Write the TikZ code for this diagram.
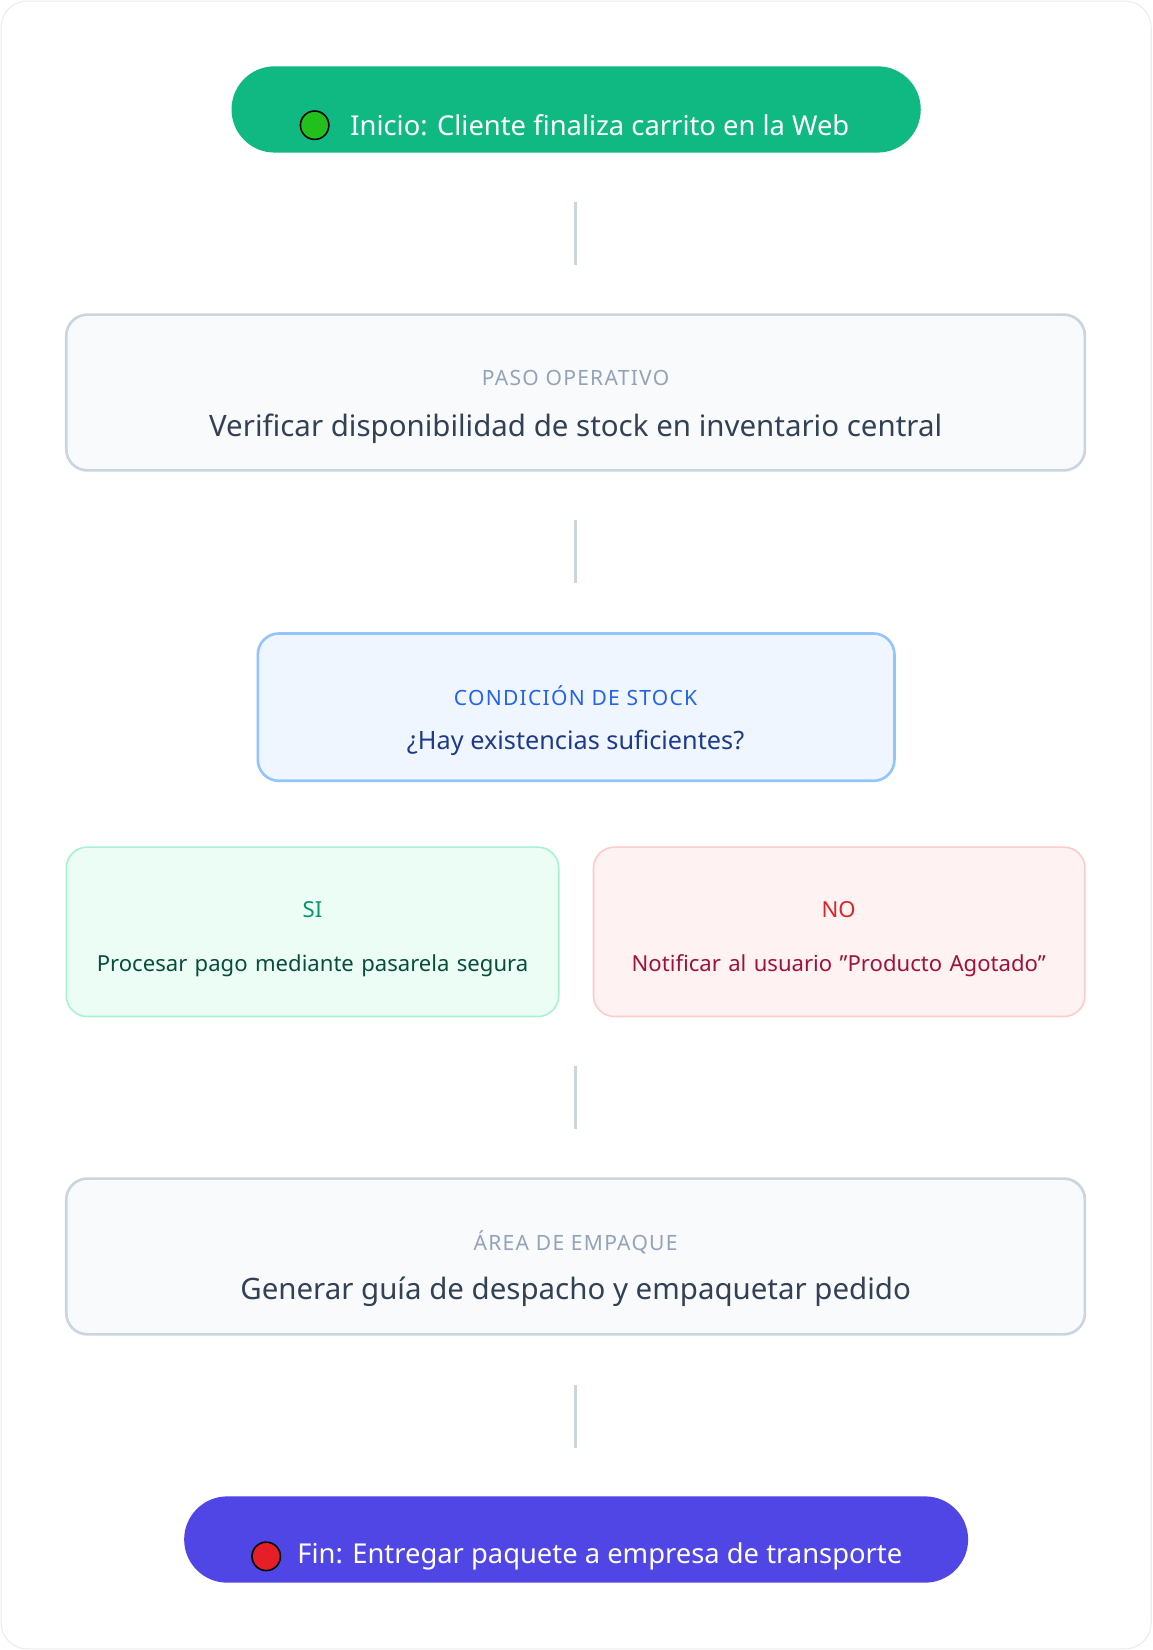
\documentclass[tikz,border=0pt]{standalone}
\usepackage{fontspec}
\setmainfont{Noto Sans}
\newfontfamily\labfont{Noto Sans}[LetterSpace=6]
\begin{document}
\begin{tikzpicture}[x=1pt,y=-1pt,
  conn/.style={draw=cline,line width=3pt},
  box/.style={rounded corners=20pt,line width=2.5pt},
  pill/.style={rounded corners=41pt},
  lab/.style={font=\labfont\fontsize{20}{24}\selectfont\bfseries},
  txt/.style={font=\fontsize{28}{34}\selectfont},
  sub/.style={font=\fontsize{21}{31}\selectfont,align=center,text width=440pt}]
\definecolor{cline}{HTML}{CBD5E1}
\definecolor{gbox}{HTML}{F8FAFC}
\definecolor{glab}{HTML}{94A3B8}
\definecolor{gtxt}{HTML}{334155}
\useasboundingbox (0,0) rectangle (1095,1568);
\draw[rounded corners=25pt,draw=gray!15,line width=1pt,fill=white] (1,1) rectangle (1094,1567);
% start
\fill[pill,fill={rgb,255:red,16;green,185;blue,129}] (220,63) rectangle (875,145);
\node[circle,draw=black,line width=1.5pt,fill={rgb,255:red,34;green,192;blue,28},minimum size=27pt,inner sep=0] (c1) at (299,119) {};
\node[text=white,font=\fontsize{26}{30}\selectfont\bfseries] (start) at (570,119) {Inicio: Cliente finaliza carrito en la Web};
\coordinate (a1) at (547,192); \coordinate (a2) at (547,252);
\draw[conn] (a1) -- (a2);
% box1
\draw[box,draw=cline,fill=gbox] (63,299) rectangle (1031,447);
\node[lab,text=glab] (l1) at (547,359) {PASO OPERATIVO};
\node[txt,text=gtxt] (t1) at (547,407) {Verificar disponibilidad de stock en inventario central};
\coordinate (b1) at (547,494); \coordinate (b2) at (547,554);
\draw[conn] (b1) -- (b2);
% decision
\draw[box,draw={rgb,255:red,147;green,197;blue,253},fill={rgb,255:red,239;green,246;blue,255}] (245,602) rectangle (850,742);
\node[lab,text={rgb,255:red,37;green,99;blue,235}] (l2) at (547,661) {CONDICIÓN DE STOCK};
\node[font=\fontsize{24}{30}\selectfont,text={rgb,255:red,30;green,58;blue,138}] (t2) at (547,706) {¿Hay existencias suficientes?};
% SI
\draw[box,line width=1.5pt,draw={rgb,255:red,167;green,243;blue,208},fill={rgb,255:red,236;green,253;blue,245}] (63,805) rectangle (531,966);
\node[font=\fontsize{21}{26}\selectfont\bfseries,text={rgb,255:red,5;green,150;blue,105}] (si) at (297,864) {SI};
\node[sub,text={rgb,255:red,6;green,78;blue,59}] (sit) at (297,918) {Procesar pago mediante pasarela segura};
% NO
\draw[box,line width=1.5pt,draw={rgb,255:red,254;green,202;blue,202},fill={rgb,255:red,254;green,242;blue,242}] (564,805) rectangle (1031,966);
\node[font=\fontsize{21}{26}\selectfont\bfseries,text={rgb,255:red,220;green,38;blue,38}] (no) at (797,864) {NO};
\node[sub,text={rgb,255:red,159;green,18;blue,57}] (not) at (797,918) {Notificar al usuario "Producto Agotado"};
\coordinate (d1) at (547,1013); \coordinate (d2) at (547,1073);
\draw[conn] (d1) -- (d2);
% box2
\draw[box,draw=cline,fill=gbox] (63,1120) rectangle (1031,1268);
\node[lab,text=glab] (l3) at (547,1181) {ÁREA DE EMPAQUE};
\node[txt,text=gtxt] (t3) at (547,1228) {Generar guía de despacho y empaquetar pedido};
\coordinate (e1) at (547,1316); \coordinate (e2) at (547,1376);
\draw[conn] (e1) -- (e2);
% end
\fill[pill,fill={rgb,255:red,79;green,70;blue,229}] (175,1422) rectangle (920,1504);
\node[circle,draw=black,line width=1.5pt,fill={rgb,255:red,230;green,30;blue,40},minimum size=27pt,inner sep=0] (c2) at (253,1479) {};
\node[text=white,font=\fontsize{26}{30}\selectfont\bfseries] (end) at (570,1479) {Fin: Entregar paquete a empresa de transporte};
\end{tikzpicture}
\end{document}
